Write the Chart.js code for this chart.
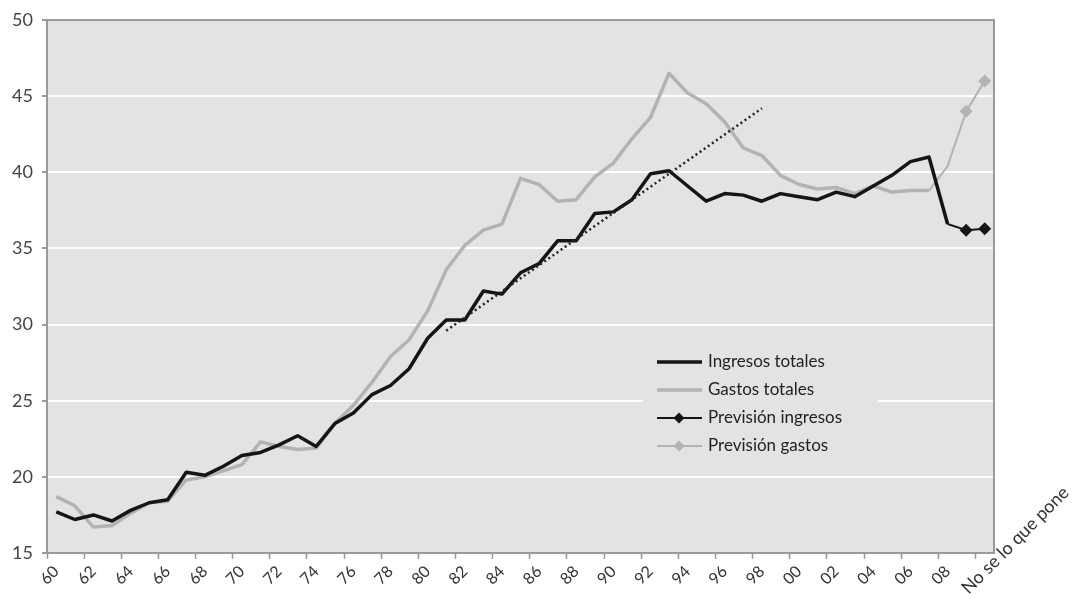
<!DOCTYPE html>
<html>
<head>
<meta charset="utf-8">
<script src="https://cdn.jsdelivr.net/npm/chart.js@4.4.0/dist/chart.umd.min.js"></script>
<style>
  html, body { margin: 0; padding: 0; background: #fff; }
  #wrap { width: 1072px; height: 599px; }
</style>
</head>
<body>
<div id="wrap"><canvas id="myChart" width="1072" height="599"></canvas></div>
<script>
// categories: one per year, 1960 .. 2010 (last one has a placeholder label)
const years = ['60','61','62','63','64','65','66','67','68','69',
               '70','71','72','73','74','75','76','77','78','79',
               '80','81','82','83','84','85','86','87','88','89',
               '90','91','92','93','94','95','96','97','98','99',
               '00','01','02','03','04','05','06','07','08','09',
               'No se lo que pone'];

// % del PIB (1960 .. 2008)
const ingresos = [17.7, 17.2, 17.5, 17.1, 17.8, 18.3, 18.5, 20.3, 20.1, 20.7,
                  21.4, 21.6, 22.1, 22.7, 22.0, 23.5, 24.2, 25.4, 26.0, 27.1,
                  29.1, 30.3, 30.3, 32.2, 32.0, 33.4, 34.0, 35.5, 35.5, 37.3,
                  37.4, 38.2, 39.9, 40.1, 39.1, 38.1, 38.6, 38.5, 38.1, 38.6,
                  38.4, 38.2, 38.7, 38.4, 39.1, 39.8, 40.7, 41.0, 36.6];

// 1960 .. 2007
const gastos = [18.7, 18.1, 16.7, 16.8, 17.6, 18.3, 18.4, 19.8, 20.0, 20.4,
                20.8, 22.3, 22.0, 21.8, 21.9, 23.5, 24.7, 26.2, 27.9, 29.0,
                30.9, 33.6, 35.2, 36.2, 36.6, 39.6, 39.2, 38.1, 38.2, 39.7,
                40.6, 42.2, 43.6, 46.5, 45.2, 44.5, 43.3, 41.6, 41.1, 39.8,
                39.2, 38.9, 39.0, 38.6, 39.1, 38.7, 38.8, 38.8];

// forecasts: 2008, 2009, 2010 and 2007 .. 2010
const previsionIngresosYears = ['08', '09', 'No se lo que pone'];
const previsionIngresos = [36.6, 36.2, 36.3];
const previsionGastosYears = ['07', '08', '09', 'No se lo que pone'];
const previsionGastos = [38.8, 40.4, 44.0, 46.0];
const markerYears = ['09', 'No se lo que pone'];

// dotted trend over the income series
const trendYears = ['81', '98'];
const trendValues = [29.6, 44.2];

const yTicks = [15, 20, 25, 30, 35, 40, 45, 50];

const plotBg = '#e3e3e3';
const frameColor = '#9a9a9a';
const fontFamily = 'Lato, "Open Sans", sans-serif';

function onYears(yrs, vals) {
    const out = years.map(() => null);
    yrs.forEach((y, i) => { out[years.indexOf(y)] = vals[i]; });
    return out;
}
function markerRadius(yrs, r) {
    return years.map(y => (markerYears.includes(y) && yrs.includes(y)) ? r : 0);
}

const plotFrame = {
    id: 'plotFrame',
    beforeDraw(chart) {
        const a = chart.chartArea;
        const ctx = chart.ctx;
        ctx.save();
        ctx.fillStyle = plotBg;
        ctx.fillRect(a.left, a.top, a.right - a.left, a.bottom - a.top);
        ctx.restore();
    },
    beforeDatasetsDraw(chart) {
        const a = chart.chartArea;
        const ctx = chart.ctx;
        ctx.save();
        ctx.strokeStyle = frameColor;
        ctx.lineWidth = 2;
        ctx.strokeRect(a.left, a.top, a.right - a.left, a.bottom - a.top);

        // legend box, sits over the grid
        const lx = a.left + 596, ly = a.top + 320;
        ctx.fillStyle = plotBg;
        ctx.fillRect(lx, ly, 235, 126);
        const items = chart.data.datasets.filter(d => d.inLegend);
        ctx.font = '17px ' + fontFamily;
        ctx.textBaseline = 'middle';
        ctx.textAlign = 'left';
        items.forEach((d, i) => {
            const y = ly + 22 + i * 28;
            ctx.strokeStyle = d.borderColor;
            ctx.lineWidth = d.borderWidth;
            ctx.beginPath();
            ctx.moveTo(lx + 14, y);
            ctx.lineTo(lx + 59, y);
            ctx.stroke();
            if (d.legendMarker) {
                const cx = lx + 36, r = 5.5;
                ctx.fillStyle = d.pointBackgroundColor;
                ctx.beginPath();
                ctx.moveTo(cx, y - r);
                ctx.lineTo(cx + r, y);
                ctx.lineTo(cx, y + r);
                ctx.lineTo(cx - r, y);
                ctx.closePath();
                ctx.fill();
            }
            ctx.fillStyle = '#222';
            ctx.fillText(d.label, lx + 65, y);
        });
        ctx.restore();
    },
    afterDraw(chart) {
        // last category label, drawn upward from below the axis
        const xs = chart.scales.x;
        const last = years.length - 1;
        const ctx = chart.ctx;
        ctx.save();
        ctx.translate(xs.getPixelForValue(last) - 16, chart.chartArea.bottom + 42);
        ctx.rotate(-Math.PI / 4);
        ctx.font = '18px ' + fontFamily;
        ctx.fillStyle = '#333';
        ctx.textAlign = 'left';
        ctx.textBaseline = 'alphabetic';
        ctx.fillText(years[last], 0, 0);
        ctx.restore();
    }
};

const myChart = new Chart(document.getElementById('myChart'), {
    type: 'line',
    data: {
        labels: years,
        datasets: [
            {
                label: 'Ingresos totales',
                data: ingresos,
                borderColor: '#151515',
                borderWidth: 3.5,
                pointRadius: 0,
                inLegend: true,
                order: 1
            },
            {
                label: 'Gastos totales',
                data: gastos,
                borderColor: '#b3b3b3',
                borderWidth: 3.5,
                pointRadius: 0,
                inLegend: true,
                order: 2
            },
            {
                label: 'Previsión ingresos',
                data: onYears(previsionIngresosYears, previsionIngresos),
                borderColor: '#151515',
                borderWidth: 2,
                pointStyle: 'rectRot',
                pointRadius: markerRadius(previsionIngresosYears, 6.5),
                pointBackgroundColor: '#151515',
                pointBorderWidth: 0,
                inLegend: true,
                legendMarker: true,
                order: 0
            },
            {
                label: 'Previsión gastos',
                data: onYears(previsionGastosYears, previsionGastos),
                borderColor: '#b3b3b3',
                borderWidth: 2,
                pointStyle: 'rectRot',
                pointRadius: markerRadius(previsionGastosYears, 6.5),
                pointBackgroundColor: '#b3b3b3',
                pointBorderWidth: 0,
                inLegend: true,
                legendMarker: true,
                order: 3
            },
            {
                label: 'Tendencia',
                data: onYears(trendYears, trendValues),
                borderColor: '#222',
                borderWidth: 2.5,
                borderDash: [2, 3],
                pointRadius: 0,
                spanGaps: true,
                order: 0
            }
        ]
    },
    options: {
        responsive: false,
        animation: false,
        devicePixelRatio: 1,
        layout: { padding: { top: 20, right: 78, left: 0, bottom: 0 } },
        plugins: {
            legend: { display: false },
            tooltip: { enabled: false }
        },
        elements: { line: { tension: 0, borderJoinStyle: 'round' } },
        scales: {
            x: {
                type: 'category',
                offset: true,
                afterFit(scale) { scale.height = 46; },
                grid: {
                    offset: true,
                    drawOnChartArea: false,
                    drawTicks: true,
                    tickLength: 6,
                    tickWidth: 1.5,
                    tickColor: ctx => (ctx.index % 2 === 0 && ctx.index < years.length) ? frameColor : 'rgba(0,0,0,0)'
                },
                border: { display: false },
                ticks: {
                    autoSkip: false,
                    minRotation: 45,
                    maxRotation: 45,
                    padding: 3,
                    color: '#333',
                    font: { family: fontFamily, size: 16 },
                    callback: (v, i) => (i % 2 === 0 && i < years.length - 1) ? years[i] : ''
                }
            },
            y: {
                min: yTicks[0],
                max: yTicks[yTicks.length - 1],
                afterFit(scale) { scale.width = 47; },
                afterBuildTicks(scale) { scale.ticks = yTicks.map(v => ({ value: v })); },
                grid: {
                    color: '#ffffff',
                    lineWidth: 2,
                    drawTicks: true,
                    tickLength: 5,
                    tickColor: frameColor
                },
                border: { display: false },
                ticks: {
                    padding: 9,
                    color: '#444',
                    font: { family: fontFamily, size: 18 }
                }
            }
        }
    },
    plugins: [plotFrame]
});
</script>
</body>
</html>
